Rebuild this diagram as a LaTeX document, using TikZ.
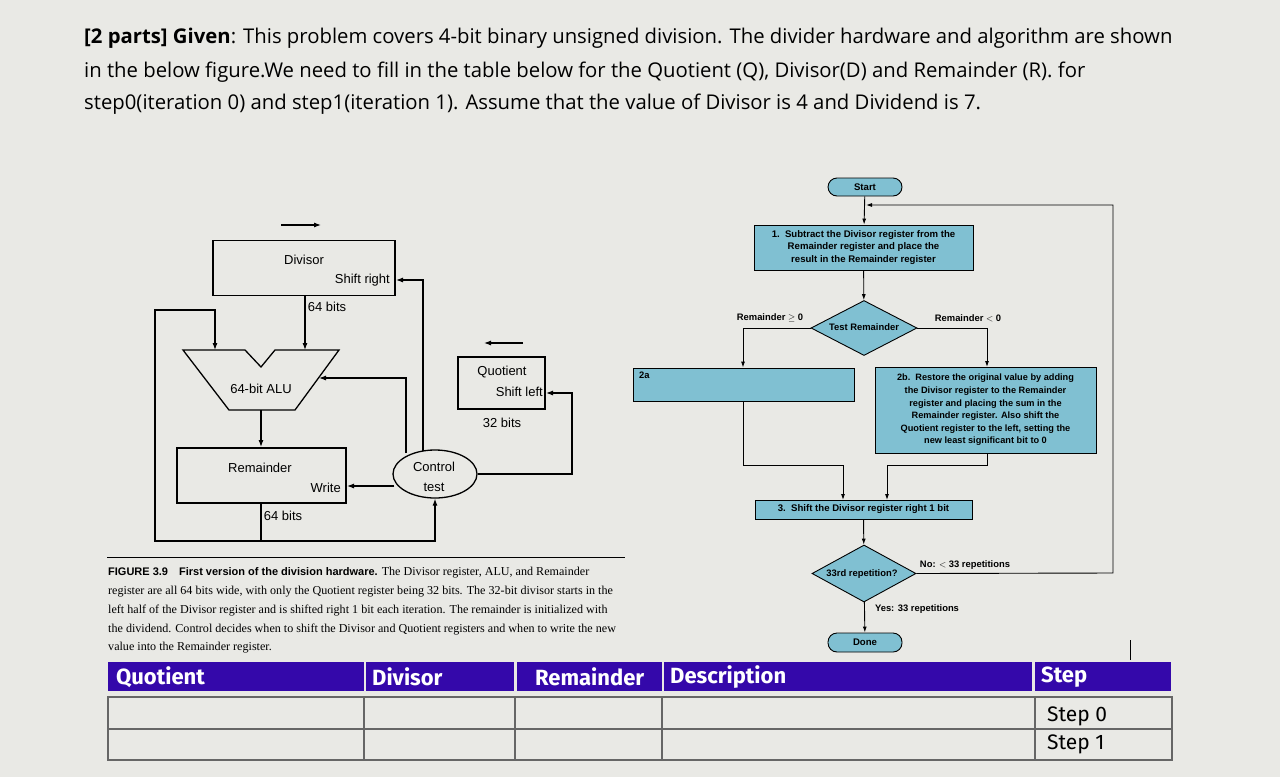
\documentclass[tikz,border=0pt]{standalone}
\usepackage{fontspec}
\setmainfont{Liberation Serif}
\newfontfamily\os{Open Sans}
\newfontfamily\ar{Liberation Sans}
\newfontfamily\fs{Fira Sans}
\usetikzlibrary{arrows.meta,shapes.geometric}
\definecolor{bg}{RGB}{233,233,229}
\definecolor{fc}{RGB}{128,192,210}
\definecolor{hd}{RGB}{52,8,170}
\begin{document}
\begin{tikzpicture}[x=1pt,y=-1pt,
 hw/.style={draw,line width=1.3pt},
 arr/.style={line width=1.1pt,-{Latex[length=7pt,width=5pt]}},
 ln/.style={line width=1.1pt},
 lab/.style={font=\ar\fontsize{13}{13}\selectfont,inner sep=0},
 fb/.style={draw,fill=fc,line width=0.9pt,font=\ar\bfseries\fontsize{9.6}{12.4}\selectfont,align=center,inner sep=0},
 fa/.style={line width=0.9pt,-{Latex[length=6pt,width=4pt]}},
 fl/.style={line width=0.9pt},
 flab/.style={font=\ar\bfseries\fontsize{9.4}{9.4}\selectfont,inner sep=0},
 hcell/.style={fill=hd,inner sep=0,text=white,font=\fs\bfseries\fontsize{22}{22}\selectfont},
 tl/.style={line width=1.4pt,draw=gray!80!black},
 ttl/.style={anchor=west,inner sep=0,font=\os\fontsize{20.3}{20.3}\selectfont}]
\fill[bg] (0,0) rectangle (1280,777);
\useasboundingbox (0,0) rectangle (1280,777);
% title
\node[ttl] (t1) at (84,38) {\textbf{[2 parts] Given}: This problem covers 4-bit binary unsigned division. The divider hardware and algorithm are shown};
\node[ttl] (t2) at (84,72) {in the below figure.We need to fill in the table below for the Quotient (Q), Divisor(D) and Remainder (R). for};
\node[ttl] (t3) at (84,104) {step0(iteration 0) and step1(iteration 1). Assume that the value of Divisor is 4 and Dividend is 7.};
% hardware
\coordinate (da) at (281,225); \coordinate (db) at (321,225);
\draw[arr] (da) -- (db);
\node[hw,minimum width=182,minimum height=55] (div) at (304,268) {};
\node[lab] (divt) at (304,260) {Divisor};
\node[lab,anchor=east] (sr) at (390,280) {Shift right};
\node[lab] (b64a) at (327,307) {64 bits};
\draw[hw,fill=none] (183,350) -- (245,350) -- (261,367) -- (275,350) -- (339,350) -- (295,410) -- (229,410) -- cycle;
\coordinate (aluL) at (215,350); \coordinate (aluR) at (305,350); \coordinate (aluS) at (319,378); \coordinate (aluB) at (261,410);
\node[lab] (alut) at (261,389) {64-bit ALU};
\draw[arr] (305,295) -- (aluR);
\node[hw,minimum width=169,minimum height=55] (rem) at (261.5,475.5) {};
\node[lab] (remt) at (260,468) {Remainder};
\node[lab,anchor=east] (wr) at (341,488) {Write};
\node[lab] (b64b) at (283,516) {64 bits};
\draw[arr] (aluB) -- (261,447);
\node[draw,ellipse,line width=1.3pt,minimum width=84,minimum height=48,inner sep=0] (ctl) at (435,474) {};
\node[lab] (ct1) at (434,467) {Control};
\node[lab] (ct2) at (434,487) {test};
\node[hw,minimum width=87,minimum height=52] (quo) at (501.5,383) {};
\node[lab] (qt) at (502,372) {Quotient};
\node[lab,anchor=east] (sl) at (543,392) {Shift left};
\node[lab] (b32) at (502,423) {32 bits};
\draw[arr] (523,343) -- (484,343);
\draw[ln] (261,503) -- (261,541);
\draw[arr] (261,541) -- (155,541) -- (155,310) -- (215,310) -- (aluL);
\draw[arr] (261,541) -- (435,541) -- (ctl.south);
\draw[arr] (ctl.west |- 0,486) ++(2,0) -- (347,486);
\draw[arr] (406,453) -- (406,378) -- (aluS);
\draw[arr] (423,451) -- (423,280) -- (396,280);
\draw[arr] (ctl.east) -- (572,474) -- (572,393) -- (546,393);
% caption
\draw[line width=1pt] (107,557) -- (625,557);
\node[anchor=north west,inner sep=0,align=left,font=\fontsize{12.1}{18.8}\selectfont] (cap) at (108,567) {{\ar\bfseries\fontsize{11}{11}\selectfont FIGURE 3.9\quad First version of the division hardware.} The Divisor register, ALU, and Remainder\\register are all 64 bits wide, with only the Quotient register being 32 bits. The 32-bit divisor starts in the\\left half of the Divisor register and is shifted right 1 bit each iteration. The remainder is initialized with\\the dividend. Control decides when to shift the Divisor and Quotient registers and when to write the new\\value into the Remainder register.};
% flowchart
\node[fb,rounded corners=9,minimum width=74,minimum height=18] (st) at (865,187) {Start};
\node[fb,minimum width=219,minimum height=45] (s1) at (863.5,247.5) {1.\ \ Subtract the Divisor register from the\\Remainder register and place the\\result in the Remainder register};
\node[fb,diamond,aspect=1.93,minimum width=106,minimum height=55] (tr) at (864,328) {};
\node[flab] (trt) at (864,327) {Test Remainder};
\node[fb,minimum width=221,minimum height=33] (s2a) at (743.5,384.5) {};
\node[flab,anchor=north west] (s2at) at (639,372) {2a};
\node[fb,minimum width=221,minimum height=86,font=\ar\bfseries\fontsize{9.2}{12.6}\selectfont] (s2b) at (985.5,410) {2b.\ \ Restore the original value by adding\\the Divisor register to the Remainder\\register and placing the sum in the\\Remainder register. Also shift the\\Quotient register to the left, setting the\\new least significant bit to 0};
\node[fb,minimum width=217,minimum height=19] (s3) at (863.5,509.5) {3.\ \ Shift the Divisor register right 1 bit};
\node[fb,diamond,aspect=1.8,minimum width=104,minimum height=57] (rp) at (864,573.5) {};
\node[flab] (rpt) at (862,574) {33rd repetition?};
\node[fb,rounded corners=9,minimum width=74,minimum height=19] (dn) at (865,642.5) {Done};
\draw[fa] (st) -- (s1);
\draw[fa] (s1) -- (tr);
\draw[fa] (tr.west) -- (743,328) -- (s2a.north -| 743,0);
\draw[fa] (tr.east) -- (987,328) -- (987,367);
\node[flab] (l1) at (770,318) {Remainder $\geq$ 0};
\node[flab] (l2) at (968,318) {Remainder $<$ 0};
\draw[fa] (743,401) -- (743,465) -- (843,465) -- (843,500);
\draw[fa] (987,453) -- (987,465) -- (887,465) -- (887,500);
\draw[fa] (s3) -- (rp);
\draw[fa] (rp.east) -- (1113,573) -- (1113,205) -- (866,205);
\node[flab] (no) at (965,565) {No: $<$ 33 repetitions};
\draw[fa] (rp) -- (dn);
\node[flab] (yes) at (917,609) {Yes: 33 repetitions};
\draw[line width=1pt] (1130,640) -- (1130,660);
% table header
\node[hcell,minimum width=256,minimum height=29,anchor=north west,text width=240,align=left] (h1) at (108,662) {Quotient};
\node[hcell,minimum width=148,minimum height=29,anchor=north west,text width=136,align=left] (h2) at (366,662) {Divisor};
\node[hcell,minimum width=145,minimum height=29,anchor=north west,align=center] (h3) at (517,662) {Remainder};
\node[hcell,minimum width=368,minimum height=29,anchor=north west,text width=356,align=left] (h4) at (664,662) {Description};
\node[hcell,minimum width=136,minimum height=29,anchor=north west,text width=124,align=left] (h5) at (1035,662) {Step};
% table body
\draw[tl] (108,697) rectangle (1172,760);
\draw[tl] (108,729) -- (1172,729);
\foreach \x in {364,515,662,1035} \draw[tl] (\x,697) -- (\x,760);
\node[anchor=west,inner sep=0,font=\fs\fontsize{21}{21}\selectfont] (s0) at (1047,716) {Step 0};
\node[anchor=west,inner sep=0,font=\fs\fontsize{21}{21}\selectfont] (s1t) at (1047,744) {Step 1};
\end{tikzpicture}
\end{document}
